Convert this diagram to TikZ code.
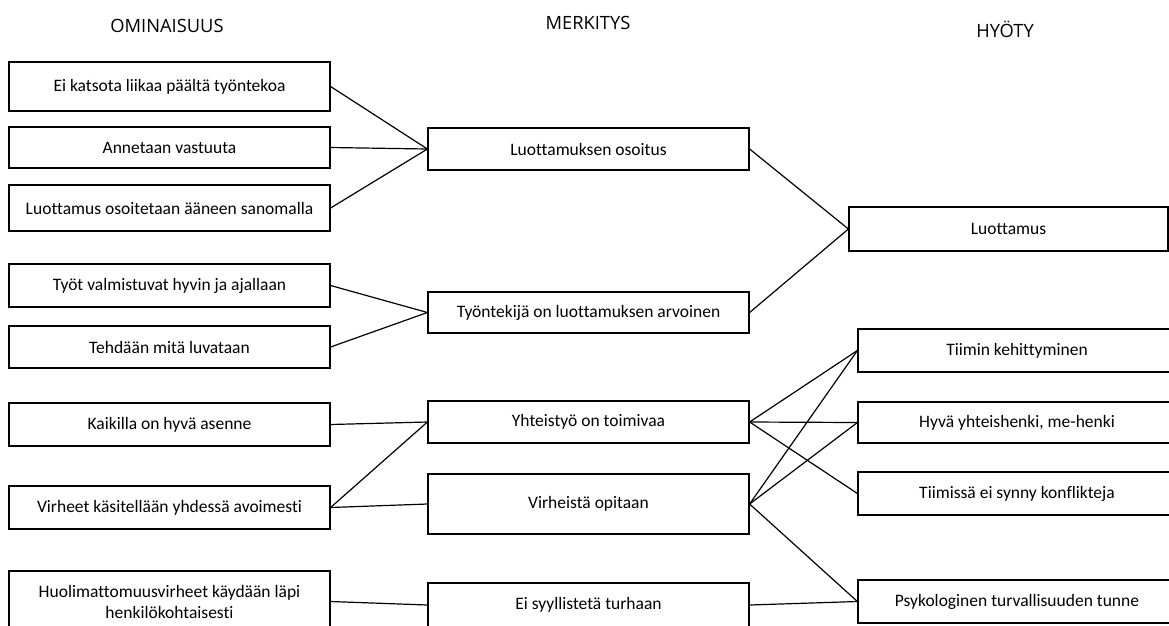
\documentclass[tikz,border=0pt]{standalone}
\usepackage{fontspec}
\setmainfont[Ligatures={NoCommon}]{Carlito}
\newfontfamily\headfont{Open Sans}
\begin{document}
\begin{tikzpicture}[x=1pt,y=-1pt,
  box/.style={draw=black, line width=1.2pt, fill=white, inner sep=0pt,
    align=center, font=\fontsize{17.5}{21}\selectfont},
  lbox/.style={box, minimum width=321pt},
  mbox/.style={box, minimum width=321pt},
  rbox/.style={box, minimum width=318pt},
  head/.style={font=\headfont\fontsize{18.3}{21}\selectfont},
  link/.style={line width=1.2pt, line cap=round}]
\useasboundingbox (0,0) rectangle (1169,625);
\clip (0,0) rectangle (1169,625);

% column headings
\node[head] (h1) at (167,26) {OMINAISUUS};
\node[head] (h2) at (588,23) {MERKITYS};
\node[head] (h3) at (1005,29.5) {HYÖTY};

% left column
\node[lbox, minimum height=49pt] (l1) at (169.5,86.5) {Ei katsota liikaa päältä työntekoa};
\node[lbox, minimum height=41pt] (l2) at (169.5,147.5) {Annetaan vastuuta};
\node[lbox, minimum height=46pt] (l3) at (169.5,208) {Luottamus osoitetaan ääneen sanomalla};
\node[lbox, minimum height=43pt] (l4) at (169.5,285.5) {Työt valmistuvat hyvin ja ajallaan};
\node[lbox, minimum height=42pt] (l5) at (169.5,347) {Tehdään mitä luvataan};
\node[lbox, minimum height=43pt] (l6) at (169.5,424.5) {Kaikilla on hyvä asenne};
\node[lbox, minimum height=43pt] (l7) at (169.5,507.5) {Virheet käsitellään yhdessä avoimesti};
\node[lbox, minimum height=61pt] (l8) at (169.5,601.5) {Huolimattomuusvirheet käydään läpi\\henkilökohtaisesti};

% middle column
\node[mbox, minimum height=42pt] (m1) at (588.5,149) {Luottamuksen osoitus};
\node[mbox, minimum height=41pt] (m2) at (588.5,312.5) {Työntekijä on luottamuksen arvoinen};
\node[mbox, minimum height=42pt] (m3) at (588.5,422) {Yhteistyö on toimivaa};
\node[mbox, minimum height=60pt] (m4) at (588.5,504) {Virheistä opitaan};
\node[mbox, minimum height=44pt] (m5) at (588.5,605) {Ei syyllistetä turhaan};

% right column
\node[box, minimum width=319pt, minimum height=44pt] (r1) at (1008.5,229) {Luottamus};
\node[rbox, minimum height=43pt] (r2) at (1017,350.5) {Tiimin kehittyminen};
\node[rbox, minimum height=41pt] (r3) at (1017,422.5) {Hyvä yhteishenki, me-henki};
\node[rbox, minimum height=43pt] (r4) at (1017,493.5) {Tiimissä ei synny konflikteja};
\node[rbox, minimum height=43pt] (r5) at (1017,601.5) {Psykologinen turvallisuuden tunne};

% links between columns
\draw[link] (l1.east) -- (m1.west);
\draw[link] (l2.east) -- (m1.west);
\draw[link] (l3.east) -- (m1.west);
\draw[link] (l4.east) -- (m2.west);
\draw[link] (l5.east) -- (m2.west);
\draw[link] (l6.east) -- (m3.west);
\draw[link] (l7.east) -- (m3.west);
\draw[link] (l7.east) -- (m4.west);
\draw[link] (l8.east) -- (m5.west);
\draw[link] (m1.east) -- (r1.west);
\draw[link] (m2.east) -- (r1.west);
\draw[link] (m3.east) -- (r2.west);
\draw[link] (m3.east) -- (r3.west);
\draw[link] (m3.east) -- (r4.west);
\draw[link] (m4.east) -- (r2.west);
\draw[link] (m4.east) -- (r3.west);
\draw[link] (m4.east) -- (r5.west);
\draw[link] (m5.east) -- (r5.west);
\end{tikzpicture}
\end{document}
